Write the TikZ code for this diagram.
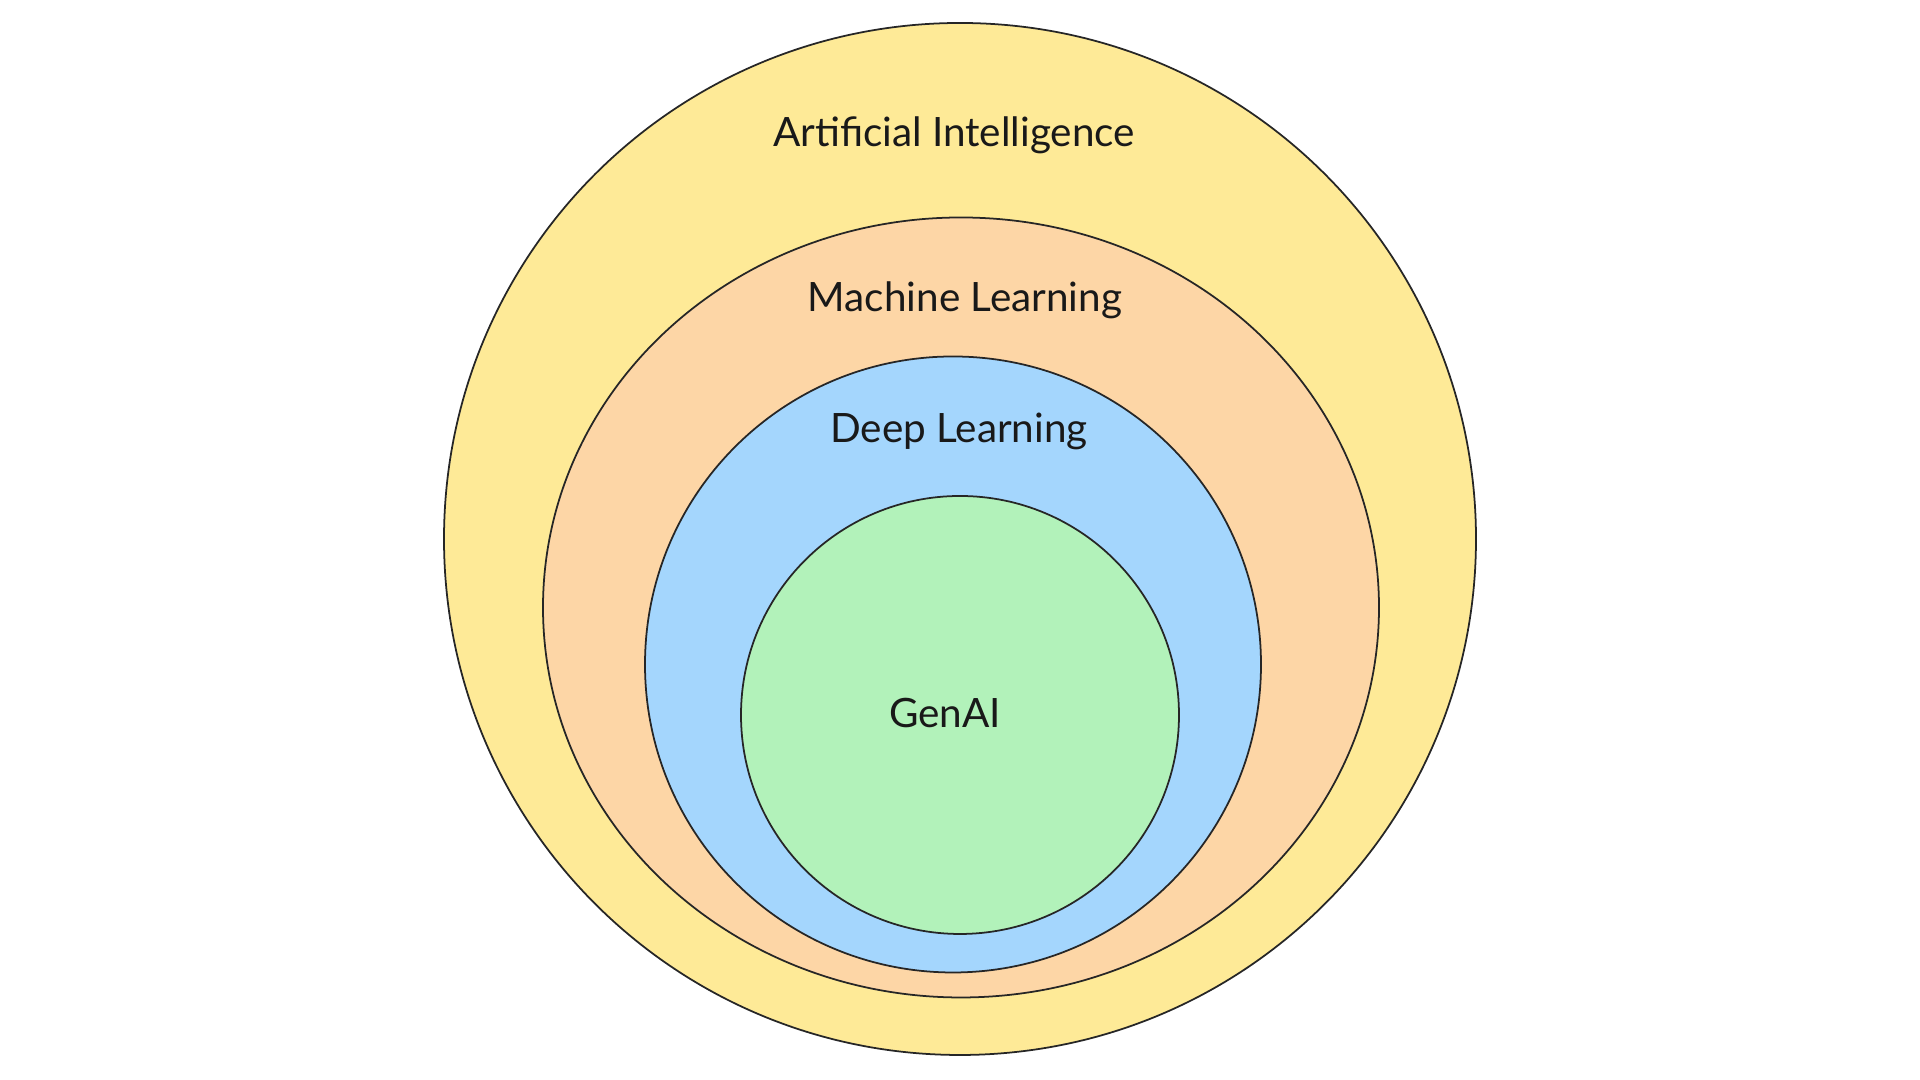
\documentclass[tikz,border=0pt]{standalone}
\usepackage{fontspec}
\setmainfont{Lato}
\definecolor{aiyellow}{HTML}{FEEA97}
\definecolor{mlpeach}{HTML}{FDD6A6}
\definecolor{dlblue}{HTML}{A4D6FD}
\definecolor{gengreen}{HTML}{B2F2BA}
\begin{document}
\begin{tikzpicture}[x=0.01cm, y=0.01cm,
    ring/.style={draw=black!85, line width=0.5pt},
    ringlabel/.style={anchor=base, font=\fontsize{11.5}{14}\selectfont, text=black!90}]
    % Marco de la imagen
    \useasboundingbox (0,0) rectangle (1920,1080);

    % Anillos, de fuera hacia dentro
    \filldraw[ring, fill=aiyellow] (960,541) circle [radius=516];
    \filldraw[ring, fill=mlpeach] (961,472.5) ellipse [x radius=418, y radius=390];
    \filldraw[ring, fill=dlblue] (953,415.5) circle [radius=308];
    \filldraw[ring, fill=gengreen] (960,365) circle [radius=219];

    % Etiquetas
    \node[ringlabel] (ai) at (954,933) {Artificial Intelligence};
    \node[ringlabel] (ml) at (965,768) {Machine Learning};
    \node[ringlabel] (dl) at (959,637) {Deep Learning};
    \node[ringlabel] (genai) at (945,352) {GenAI};
\end{tikzpicture}
\end{document}
